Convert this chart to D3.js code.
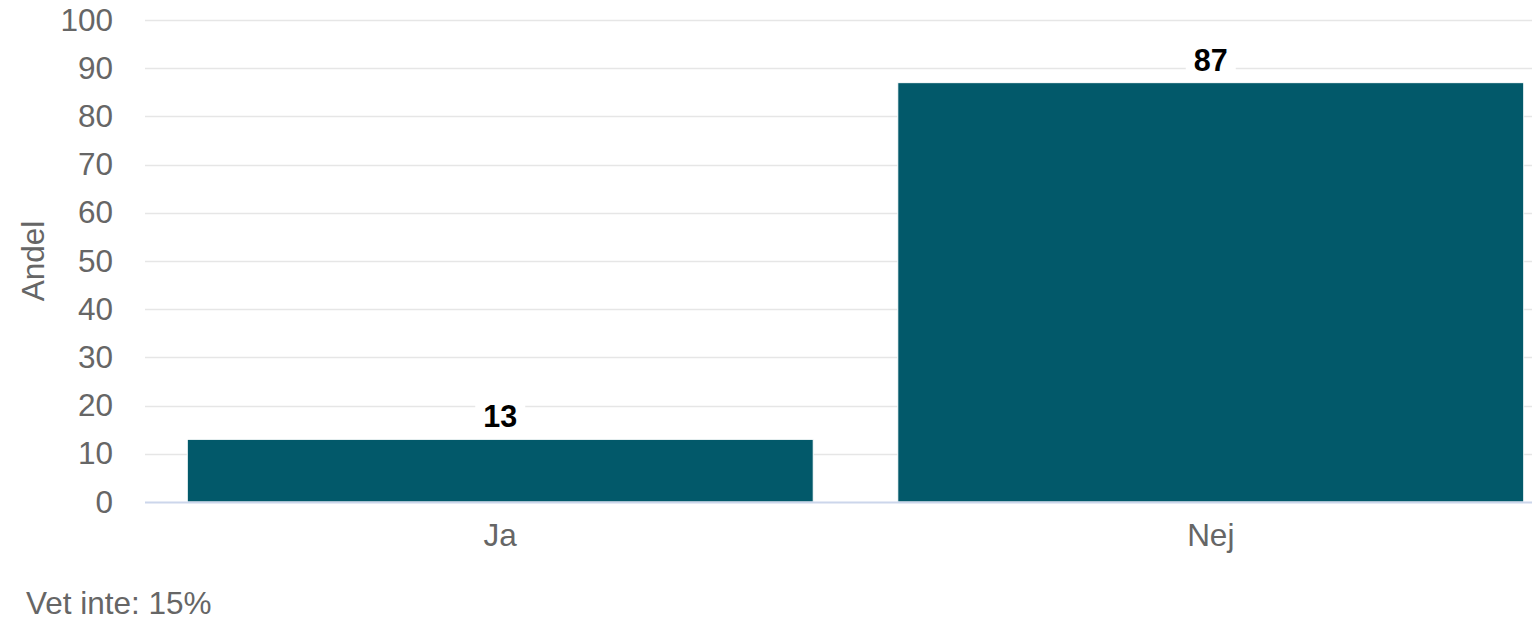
<!DOCTYPE html>
<html>
<head>
<meta charset="utf-8">
<script src="https://cdn.jsdelivr.net/npm/d3@7"></script>
<style>
  html, body { margin: 0; padding: 0; background: #fff; }
  svg { display: block; font-family: 'Liberation Sans', Arial, sans-serif; }
</style>
</head>
<body>
<div class="chart"></div>
<script>
const categories = ['Ja', 'Nej']
const values = [13, 87]
const yTicks = [0, 10, 20, 30, 40, 50, 60, 70, 80, 90, 100]
const yTitle = 'Andel'
const note = 'Vet inte: 15%'

const width = 1532
const height = 620
const margin = { top: 20, right: -34, bottom: 118, left: 145 }

const svg = d3.select('.chart').append('svg')
  .attr('width', width)
  .attr('height', height)

const x = d3.scaleBand()
  .domain(categories)
  .range([margin.left, width - margin.right])
  .paddingInner(0.119)
  .paddingOuter(0.0595)

const y = d3.scaleLinear()
  .domain([0, 100])
  .range([height - margin.bottom, margin.top])

// gridlines
svg.append('g')
  .selectAll('line')
  .data(yTicks.filter(d => d > 0))
  .enter().append('line')
    .attr('x1', margin.left)
    .attr('x2', width)
    .attr('y1', d => Math.round(y(d)) + 0.5)
    .attr('y2', d => Math.round(y(d)) + 0.5)
    .attr('stroke', '#e6e6e6')
    .attr('stroke-width', 1.5)

// y labels
const yAxis = svg.append('g')
  .attr('transform', 'translate(' + margin.left + ',0)')
  .call(d3.axisLeft(y).tickValues(yTicks).tickSize(0).tickPadding(32))
yAxis.select('.domain').remove()
yAxis.selectAll('text')
  .attr('fill', '#666')
  .attr('font-size', '31.5px')
  .attr('font-family', "'Liberation Sans', Arial, sans-serif")

// bars
svg.append('g')
  .selectAll('rect')
  .data(values)
  .enter().append('rect')
    .attr('x', (d, i) => x(categories[i]))
    .attr('y', d => y(d))
    .attr('width', x.bandwidth())
    .attr('height', d => y(0) - y(d))
    .attr('fill', '#02596a')
    .attr('stroke', '#ffffff')
    .attr('stroke-width', 1)

// baseline
svg.append('line')
  .attr('x1', margin.left)
  .attr('x2', width)
  .attr('y1', Math.round(y(0)) + 0.5)
  .attr('y2', Math.round(y(0)) + 0.5)
  .attr('stroke', '#ccd6eb')
  .attr('stroke-width', 2)

// x labels
const xAxis = svg.append('g')
  .attr('transform', 'translate(0,' + y(0) + ')')
  .call(d3.axisBottom(x).tickSize(0).tickPadding(22))
xAxis.select('.domain').remove()
xAxis.selectAll('text')
  .attr('fill', '#666')
  .attr('font-size', '31.5px')
  .attr('font-family', "'Liberation Sans', Arial, sans-serif")

// data labels with white boxes
const lab = svg.append('g')
  .selectAll('g')
  .data(values)
  .enter().append('g')
    .attr('transform', (d, i) => 'translate(' + (x(categories[i]) + x.bandwidth() / 2) + ',' + y(d) + ')')

lab.append('rect')
  .attr('x', -25)
  .attr('y', -44)
  .attr('width', 50)
  .attr('height', 43)
  .attr('fill', '#fff')

lab.append('text')
  .attr('text-anchor', 'middle')
  .attr('y', -12)
  .attr('font-size', '30.5px')
  .attr('font-weight', 'bold')
  .attr('fill', '#000')
  .text(d => d)

// y title
svg.append('text')
  .attr('transform', 'translate(44,' + y(50) + ') rotate(-90)')
  .attr('text-anchor', 'middle')
  .attr('font-size', '31.5px')
  .attr('fill', '#666')
  .text(yTitle)

// footnote
svg.append('text')
  .attr('x', 26)
  .attr('y', 614)
  .attr('font-size', '31.5px')
  .attr('fill', '#666')
  .text(note)
</script>
</body>
</html>
